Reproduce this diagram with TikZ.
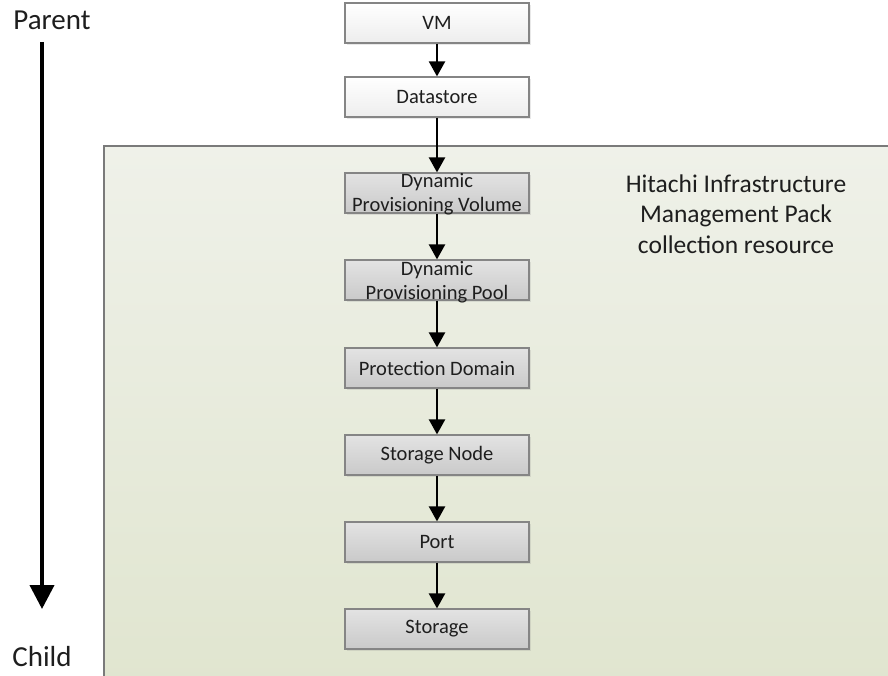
\documentclass[tikz,border=0pt]{standalone}
\usepackage{fontspec}
\setmainfont{Carlito}
\usetikzlibrary{arrows.meta,shadows}
\definecolor{panelTop}{HTML}{EFF1E9}
\definecolor{panelBot}{HTML}{E0E5CF}
\definecolor{panelEdge}{HTML}{7A7A7A}
\definecolor{boxEdge}{HTML}{858585}
\definecolor{txt}{HTML}{1E1E1E}
% two text lines that may spill past the box edge, first baseline just above centre
\newcommand{\spillpair}[2]{\raisebox{5pt}[0pt][0pt]{\begin{tabular}[t]{@{}c@{}}#1\\#2\end{tabular}}}
\tikzset{
  outerbox/.style={draw=boxEdge, line width=1.2pt, minimum width=184pt, minimum height=40pt,
    top color=white, bottom color=black!7, text=txt, inner sep=0pt,
    font=\fontsize{20.5}{24}\selectfont, align=center,
    drop shadow={shadow xshift=2pt, shadow yshift=-2pt, opacity=0.18}},
  innerbox/.style={outerbox, top color=black!11, bottom color=black!21},
  link/.style={line width=2.3pt, -{Triangle[width=16pt,length=15pt]}},
  axislabel/.style={font=\fontsize{29}{32}\selectfont, text=txt},
}
\begin{document}
\begin{tikzpicture}[x=1pt,y=-1pt]
\useasboundingbox (0,0) rectangle (888,676);
\begin{scope}
  \clip (0,0) rectangle (888,676);
  % resource collection panel
  \draw[draw=panelEdge, line width=1.2pt, top color=panelTop, bottom color=panelBot]
    (104,146) rectangle (896,690);
\end{scope}
\node[font=\fontsize{25.5}{30.5}\selectfont, text=txt, align=center] (title) at (736,214)
  {Hitachi Infrastructure\\Management Pack\\collection resource};

% hierarchy of resources
\node[outerbox] (vm) at (437,23) {VM};
\node[outerbox] (ds) at (437,97) {Datastore};
\node[innerbox] (dpv) at (437,193) {\spillpair{Dynamic}{Provisioning Volume}};
\node[innerbox] (dpp) at (437,280) {\spillpair{Dynamic}{Provisioning Pool}};
\node[innerbox] (pd) at (437,368) {Protection Domain};
\node[innerbox] (sn) at (437,455) {Storage Node};
\node[innerbox] (port) at (437,542) {Port};
\node[innerbox] (st) at (437,629) {Storage};

\draw[link] (vm) -- (ds);
\draw[link] (ds) -- (dpv);
\draw[link] (dpv) -- (dpp);
\draw[link] (dpp) -- (pd);
\draw[link] (pd) -- (sn);
\draw[link] (sn) -- (port);
\draw[link] (port) -- (st);

% parent-to-child axis
\node[axislabel] (parent) at (52,20) {Parent};
\node[axislabel] (child) at (42,657) {Child};
\coordinate (axtop) at (42,42);
\coordinate (axbot) at (42,609);
\draw[line width=4pt, -{Triangle[width=24pt,length=24pt]}] (axtop) -- (axbot);
\end{tikzpicture}
\end{document}
